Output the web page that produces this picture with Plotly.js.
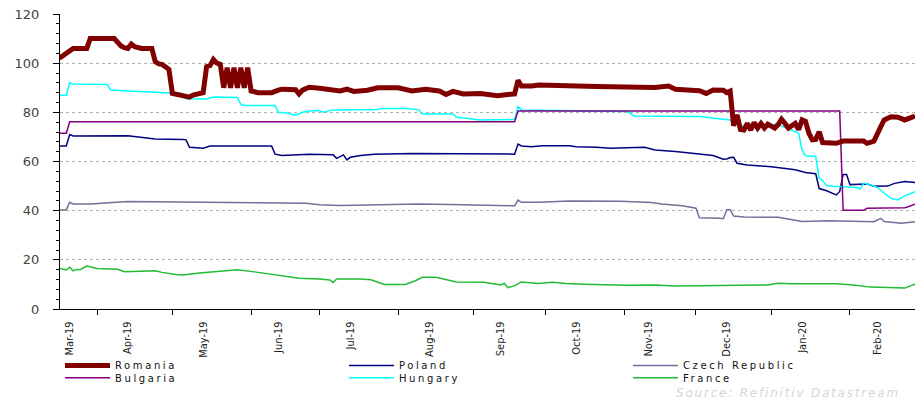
<!DOCTYPE html>
<html>
<head>
<meta charset="utf-8">
<script src="https://cdn.plot.ly/plotly-3.0.1.min.js"></script>
<style>
html,body{margin:0;padding:0;background:#fff;}
#chart{width:921px;height:401px;}
.legendtext, g.legend text, g.legend2 text, g[class*="legend"] text{letter-spacing:2.6px;}
.annotation-text{letter-spacing:1.8px;}
</style>
</head>
<body>
<div id="chart"></div>
<script>
// ---- Data ----
var romaniaDates = ['2019-03-15','2019-03-19','2019-03-20','2019-03-21','2019-03-27','2019-03-28','2019-04-08','2019-04-10','2019-04-11','2019-04-12','2019-04-15','2019-04-16','2019-04-18','2019-04-23','2019-04-24','2019-04-25','2019-04-26','2019-04-29','2019-04-30','2019-05-01','2019-05-03','2019-05-08','2019-05-09','2019-05-10','2019-05-14','2019-05-15','2019-05-16','2019-05-17','2019-05-20','2019-05-21','2019-05-22','2019-05-23','2019-05-24','2019-05-27','2019-05-28','2019-05-29','2019-05-30','2019-05-31','2019-06-03','2019-06-05','2019-06-11','2019-06-13','2019-06-14','2019-06-20','2019-06-21','2019-06-24','2019-06-26','2019-07-01','2019-07-09','2019-07-11','2019-07-15','2019-07-19','2019-07-24','2019-08-01','2019-08-07','2019-08-13','2019-08-19','2019-08-21','2019-08-23','2019-08-28','2019-09-04','2019-09-11','2019-09-16','2019-09-18','2019-09-19','2019-09-20','2019-09-25','2019-09-27','2019-10-22','2019-11-07','2019-11-14','2019-11-20','2019-11-22','2019-12-03','2019-12-05','2019-12-09','2019-12-12','2019-12-13','2019-12-16','2019-12-17','2019-12-18','2019-12-19','2019-12-20','2019-12-23','2019-12-24','2019-12-25','2019-12-26','2019-12-27','2019-12-30','2019-12-31','2020-01-01','2020-01-02','2020-01-03','2020-01-06','2020-01-07','2020-01-08','2020-01-10','2020-01-13','2020-01-14','2020-01-15','2020-01-16','2020-01-17','2020-01-20','2020-01-21','2020-01-22','2020-01-27','2020-01-28','2020-01-30','2020-02-07','2020-02-10','2020-02-12','2020-02-14','2020-02-17','2020-02-19','2020-02-21','2020-02-25','2020-02-28'];
var romaniaValues = [102,104,104.8,106,106,110,110,107,106.3,106,107.8,106.7,106,106,100.6,99.7,99.5,98.6,97.5,87.7,87,86.2,87,87.5,88,98.6,99,101.5,100,99.5,90,98.2,90,98.2,90,98.2,90,98.2,88.7,88,88,89,89.4,89.2,87.5,89,90.2,89.8,88.7,89.4,88.5,89,90,90,88.7,89.4,88.7,87.3,88.5,87.5,87.7,86.8,87.3,87.5,93,90.7,90.7,91.1,90.5,90,90.1,90.7,89.4,88.8,87.7,89.1,89,88,88.6,74.5,79,73,72.8,75.5,72.8,75.8,73.6,75.5,73.6,75.2,74.5,73.6,75,77.2,75.5,73.6,75.5,73,76.9,76.3,71.5,68.8,69,72.1,67.7,67.7,67.4,68.3,68.3,67.4,68.3,74.2,76.9,78.2,78,76.9,78.5];

var polandDates = ['2019-03-15','2019-03-19','2019-03-20','2019-03-21','2019-04-12','2019-04-17','2019-04-22','2019-04-24','2019-05-06','2019-05-07','2019-05-08','2019-05-14','2019-05-16','2019-06-11','2019-06-12','2019-06-14','2019-06-26','2019-07-05','2019-07-08','2019-07-09','2019-07-10','2019-07-11','2019-07-12','2019-07-17','2019-07-23','2019-08-07','2019-09-05','2019-09-18','2019-09-19','2019-09-20','2019-09-25','2019-09-30','2019-10-10','2019-10-14','2019-10-22','2019-10-28','2019-11-11','2019-11-14','2019-11-22','2019-12-02','2019-12-09','2019-12-12','2019-12-13','2019-12-16','2019-12-17','2019-12-18','2019-12-23','2020-01-01','2020-01-06','2020-01-10','2020-01-15','2020-01-20','2020-01-21','2020-01-23','2020-01-28','2020-01-29','2020-01-30','2020-01-31','2020-02-03','2020-02-10','2020-02-12','2020-02-18','2020-02-20','2020-02-25','2020-02-28'];
var polandValues = [66.3,66.3,71,70.4,70.5,70.1,69.6,69.2,69,68.8,65.8,65.4,66.3,66.3,63,62.4,62.9,62.7,61.3,62,62.7,60.6,61.7,62.4,62.9,63.3,63.1,63,67.1,66.3,66,66.4,66.4,66,65.8,65.4,65.8,64.7,64.1,63.3,62.4,60.9,61,61.6,61.7,59.3,58.6,57.9,57.4,56.6,55.5,55,49,48.2,46.4,47.8,54.7,54.7,50.6,50.8,49.9,50,51.1,51.9,51.5];

var czechDates = ['2019-03-15','2019-03-19','2019-03-20','2019-03-21','2019-03-28','2019-04-04','2019-04-12','2019-06-25','2019-07-01','2019-07-09','2019-07-24','2019-08-01','2019-08-09','2019-08-22','2019-09-06','2019-09-18','2019-09-19','2019-09-20','2019-09-27','2019-10-10','2019-10-31','2019-11-13','2019-11-18','2019-11-26','2019-12-02','2019-12-03','2019-12-11','2019-12-12','2019-12-13','2019-12-16','2019-12-17','2019-12-20','2020-01-03','2020-01-08','2020-01-14','2020-01-24','2020-02-12','2020-02-14','2020-02-17','2020-02-24','2020-02-28'];
var czechValues = [40.3,40.3,43.4,42.7,42.7,43.2,43.7,43,42.4,42.1,42.3,42.7,42.7,42.5,42.3,42,44.3,43.4,43.4,43.9,43.8,43.3,42.7,42,41,37.1,36.9,36.7,40.4,40.4,37.8,37.4,37.3,36.6,35.6,35.9,35.5,36.9,35.6,34.9,35.5];

var bulgariaDates = ['2019-03-15','2019-03-19','2019-03-20','2019-09-18','2019-09-19','2020-01-29','2020-01-30','2020-02-07','2020-02-10','2020-02-25','2020-02-26','2020-02-28'];
var bulgariaValues = [71.5,71.5,76.2,76.2,80.5,80.5,40.2,40.2,41,41.2,41.6,42.6];

var hungaryDates = ['2019-03-15','2019-03-19','2019-03-20','2019-03-21','2019-04-04','2019-04-05','2019-04-12','2019-05-06','2019-05-07','2019-05-15','2019-05-17','2019-05-28','2019-05-29','2019-05-30','2019-06-12','2019-06-13','2019-06-17','2019-06-20','2019-06-24','2019-06-26','2019-07-01','2019-07-02','2019-07-05','2019-07-24','2019-07-25','2019-08-06','2019-08-09','2019-08-12','2019-08-23','2019-08-26','2019-08-29','2019-09-04','2019-09-18','2019-09-19','2019-09-20','2019-10-22','2019-11-04','2019-11-06','2019-12-03','2019-12-12','2019-12-16','2019-12-18','2019-12-19','2019-12-26','2020-01-01','2020-01-02','2020-01-06','2020-01-08','2020-01-13','2020-01-14','2020-01-15','2020-01-20','2020-01-21','2020-01-22','2020-01-23','2020-01-27','2020-02-05','2020-02-06','2020-02-07','2020-02-11','2020-02-13','2020-02-14','2020-02-18','2020-02-19','2020-02-21','2020-02-25','2020-02-28'];
var hungaryValues = [87,87,92,91.5,91.3,89.1,88.7,87.7,85.5,85.4,86.2,86,83.3,82.8,82.8,80,79.8,78.8,80,80.5,80.7,80,81,81.2,81.6,81.6,81,79.3,79.3,78,77.6,76.9,77.1,82.3,81,80.7,80.3,78.5,78.3,77.2,76.9,75.3,74.5,73.8,74.3,75.2,74.5,73.2,71.6,64.5,62.3,62,53.2,52.3,50.3,49.9,49.4,48.8,51.2,50.4,49.5,48.2,46,45,44.4,46,47.7];

var franceDates = ['2019-03-15','2019-03-19','2019-03-20','2019-03-21','2019-03-22','2019-03-25','2019-03-27','2019-03-29','2019-04-01','2019-04-05','2019-04-09','2019-04-11','2019-04-17','2019-04-22','2019-04-24','2019-04-26','2019-05-02','2019-05-06','2019-05-13','2019-05-20','2019-05-24','2019-05-28','2019-06-04','2019-06-12','2019-06-17','2019-06-21','2019-07-01','2019-07-04','2019-07-05','2019-07-08','2019-07-17','2019-07-22','2019-07-26','2019-08-05','2019-08-08','2019-08-12','2019-08-16','2019-08-22','2019-08-26','2019-09-05','2019-09-12','2019-09-13','2019-09-16','2019-09-18','2019-09-20','2019-09-27','2019-10-03','2019-10-09','2019-10-16','2019-11-04','2019-11-14','2019-11-22','2019-12-20','2019-12-31','2020-01-03','2020-01-09','2020-01-28','2020-02-04','2020-02-11','2020-02-21','2020-02-25','2020-02-28'];
var franceValues = [16.5,15.9,17,15.5,16.1,16,17.5,17,16.5,16.3,16.2,15.2,15.2,15.5,15.6,14.9,14,13.8,14.6,15.2,15.9,16,15.1,14,13.3,12.5,12.2,11.8,10.8,12.2,12.2,11.9,10,10,11.5,12.9,12.9,11.5,11,10.9,9.8,10.5,8.7,9.4,11,10.4,10.9,10.4,10.1,9.7,9.8,9.4,9.6,9.8,10.5,10.3,10.3,9.8,8.9,8.8,8.5,10.1];

var monthTickDates = ['2019-04-01','2019-05-01','2019-06-03','2019-07-01','2019-08-01','2019-09-02','2019-10-01','2019-11-01','2019-12-02','2020-01-01','2020-02-03'];
var monthLabelDates = ['2019-03-20','2019-04-12','2019-05-14','2019-06-13','2019-07-12','2019-08-14','2019-09-12','2019-10-14','2019-11-12','2019-12-13','2020-01-14','2020-02-13'];
var monthLabels = ['Mar-19','Apr-19','May-19','Jun-19','Jul-19','Aug-19','Sep-19','Oct-19','Nov-19','Dec-19','Jan-20','Feb-20'];

var seriesNames = ['Romania','Poland','Czech Republic','Bulgaria','Hungary','France'];
var seriesColors = ['#800000','#000080','#707099','#800080','#00FFFF','#22BB33'];

// ---- Traces ----
var datasets = [
  [romaniaDates, romaniaValues, 5, 'legend'],
  [polandDates, polandValues, 1.5, 'legend'],
  [czechDates, czechValues, 1.5, 'legend'],
  [bulgariaDates, bulgariaValues, 1.5, 'legend2'],
  [hungaryDates, hungaryValues, 1.5, 'legend2'],
  [franceDates, franceValues, 1.5, 'legend2']
];
var drawOrder = [5,2,1,4,3,0];
var traces = datasets.map(function(d, i){
  return {
    type:'scatter', mode:'lines', name:seriesNames[i],
    x:d[0], y:d[1],
    line:{color:seriesColors[i], width:d[2]},
    legend:d[3], legendrank:i+1, hoverinfo:'x+y+name'
  };
});

var legendFont = {family:'DejaVu Sans, Liberation Sans, sans-serif', size:10, color:'#111'};
var layout = {
  width:921, height:401,
  margin:{l:60, r:6, t:14, b:92, autoexpand:false},
  paper_bgcolor:'#fff', plot_bgcolor:'#fff',
  showlegend:true,
  xaxis:{
    type:'date', automargin:false,
    range:['2019-03-15 04:00','2020-02-28'],
    rangebreaks:[{bounds:['sat','mon']}],
    showline:true, linecolor:'#000', linewidth:1,
    showgrid:false, zeroline:false,
    tickmode:'array', tickvals:monthLabelDates, ticktext:monthLabels,
    ticks:'', tickangle:-90, ticklabelstandoff:7,
    tickfont:{family:'Liberation Sans Narrow, DejaVu Sans Condensed, Arial Narrow, sans-serif', size:11, color:'#222'},
    minor:{tickmode:'array', tickvals:monthTickDates, ticks:'outside', ticklen:5, tickwidth:1, tickcolor:'#000', showgrid:false}
  },
  yaxis:{
    range:[0,120], dtick:20, tick0:0, automargin:false,
    showline:true, linecolor:'#000', linewidth:1,
    ticks:'outside', ticklen:6, tickwidth:1, tickcolor:'#000',
    showgrid:true, gridcolor:'#b0b0b0', griddash:'dot', gridwidth:1,
    zeroline:false,
    ticklabelstandoff:11,
    tickfont:{family:'DejaVu Sans, Liberation Sans, sans-serif', size:13, color:'#444'},
    minor:{dtick:4, tick0:0, ticks:'outside', ticklen:3, tickwidth:1, tickcolor:'#000', showgrid:false}
  },
  legend:{orientation:'h', x:0, xanchor:'left', y:-0.142, yanchor:'top',
    entrywidth:224, entrywidthmode:'pixels', itemwidth:45,
    font:legendFont, bgcolor:'rgba(0,0,0,0)', traceorder:'normal'},
  legend2:{orientation:'h', x:0, xanchor:'left', y:-0.184, yanchor:'top',
    entrywidth:224, entrywidthmode:'pixels', itemwidth:45,
    font:legendFont, bgcolor:'rgba(0,0,0,0)', traceorder:'normal'},
  annotations:[{
    xref:'paper', yref:'paper', x:0.985, y:-0.285, xanchor:'right', yanchor:'middle',
    text:'<i>Source: Refinitiv Datastream</i>', showarrow:false,
    font:{family:'DejaVu Sans, Liberation Sans, sans-serif', size:12, color:'#d6d6d6'}
  }]
};

var ordered = drawOrder.map(function(k){ return traces[k]; });
Plotly.newPlot('chart', ordered, layout, {displayModeBar:false, staticPlot:true});
</script>
</body>
</html>
